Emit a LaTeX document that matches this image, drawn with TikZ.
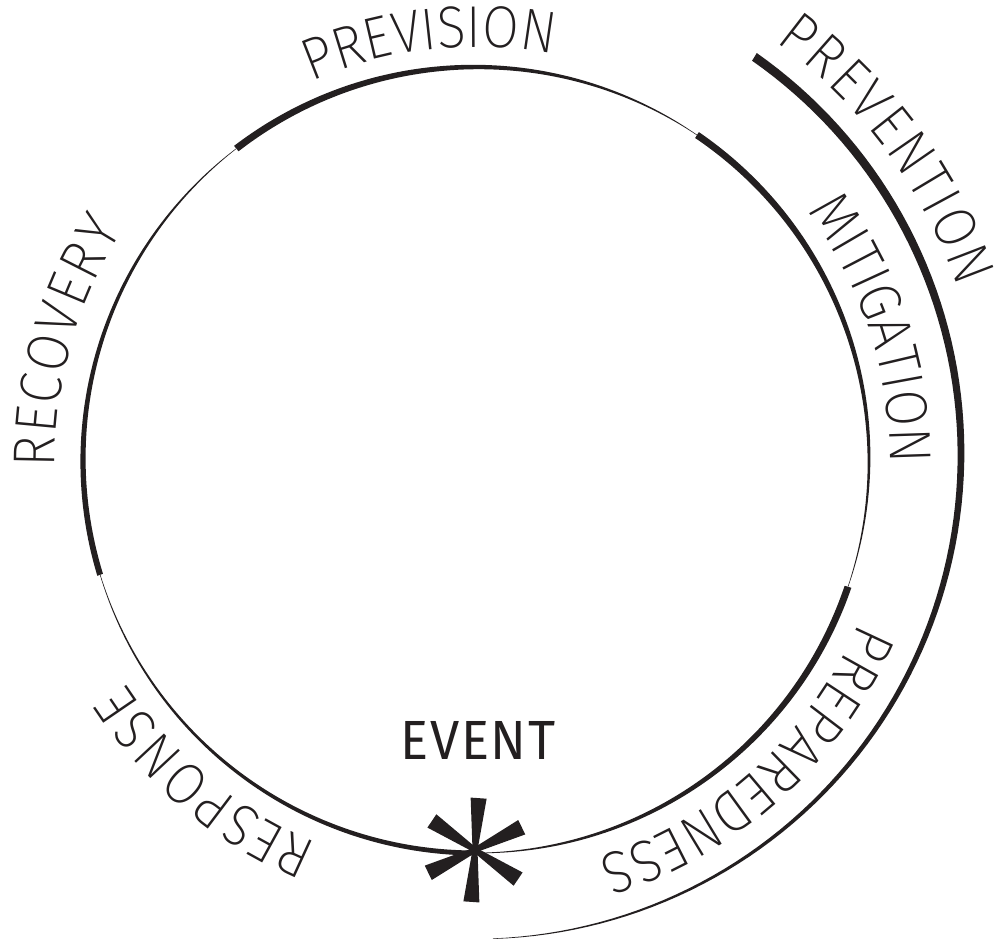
\documentclass[tikz,border=0pt]{standalone}
\usepackage{fontspec}
\usetikzlibrary{decorations.text}
\definecolor{InkBlack}{RGB}{35,31,32}
\newfontfamily\arcfontface{Fira Sans ExtraLight}[FakeStretch=0.9]
\newfontfamily\eventfontface{Fira Sans}[FakeStretch=0.95, LetterSpace=3]
\newcommand{\arcfont}{\arcfontface\fontsize{16.8pt}{18pt}\selectfont}
\newcommand{\eventfont}{\eventfontface\fontsize{15.7pt}{17pt}\selectfont}
% tapered arc: centre x, centre y, radius, from angle, to angle, start width
\newcommand{\taperarc}[6]{%
  \fill[InkBlack] plot[domain=0:1, samples=90]
    ({#1+(#3+0.25+(#6-0.5)*(1-\x)*(1+0.5*\x)/2)*cos(#4+((#5)-(#4))*\x)},
     {#2+(#3+0.25+(#6-0.5)*(1-\x)*(1+0.5*\x)/2)*sin(#4+((#5)-(#4))*\x)})
  -- plot[domain=0:1, samples=90]
    ({#1+(#3-0.25-(#6-0.5)*\x*(1+0.5*(1-\x))/2)*cos(#5+((#4)-(#5))*\x)},
     {#2+(#3-0.25-(#6-0.5)*\x*(1+0.5*(1-\x))/2)*sin(#5+((#4)-(#5))*\x)})
  -- cycle;}

\begin{document}
\begin{tikzpicture}[x=0.01cm, y=0.01cm,
  arclabel/.style={decorate, decoration={text along path, text align=fit to path,
    text color=InkBlack, text={|\arcfont|#1}}},
  spoke/.style={fill=InkBlack}]
  \useasboundingbox (-476,-479) rectangle (519,460);
  % the cycle
  \taperarc{0}{0}{393}{127.6}{55.8}{7}
  \taperarc{0}{0}{393}{55.8}{-18.8}{7}
  \taperarc{0}{0}{393}{-18.8}{-90}{7}
  \taperarc{0}{0}{393}{-90}{-163}{5}
  \taperarc{0}{0}{393}{197}{127.6}{6}
  \taperarc{0}{6}{485}{55}{-88}{9}
  % phase names
  \path[arclabel=PREVISION] (113.5:413) arc[start angle=113.5, end angle=79.3, radius=413];
  \path[arclabel=MITIGATION] (37:414) arc[start angle=37, end angle=0, radius=414];
  \path[arclabel=PREPAREDNESS] (-23:416) arc[start angle=-23, end angle=-73, radius=416];
  \path[arclabel=RESPONSE] (-112.5:415) arc[start angle=-112.5, end angle=-147.5, radius=415];
  \path[arclabel=RECOVERY] (181:421) arc[start angle=181, end angle=147, radius=421];
  \path[arclabel=PREVENTION, shift={(0,6)}] (54:510) arc[start angle=54, end angle=19, radius=510];
  % the event
  \foreach \a in {90,30,-30,-90,-150,150}
    \fill[spoke, shift={(-1,-390)}, rotate=\a-4] (0,-2.5) -- (52,-8) -- (52,8) -- (0,2.5) -- cycle;
  \node[font=\eventfont, text=InkBlack, inner sep=0pt] (event) at (2,-280) {EVENT};
\end{tikzpicture}
\end{document}
